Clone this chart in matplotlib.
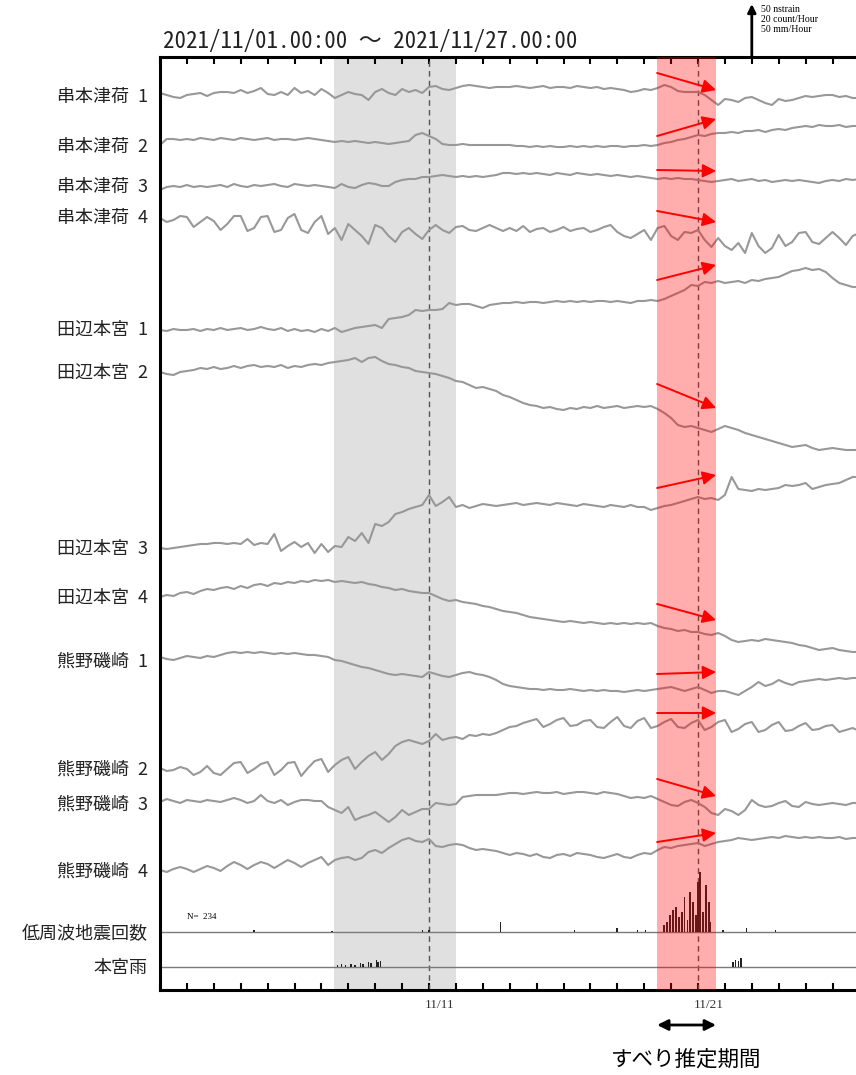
import matplotlib
matplotlib.use("Agg")
import matplotlib.pyplot as plt
import numpy as np

plt.rcParams['font.family'] = ['Noto Sans CJK JP', 'DejaVu Sans']

# 6-hourly samples, days since 2021/11/01 00:00
days = np.arange(0, 26.01, 0.25)

labels = ['串本津荷\u20021', '串本津荷\u20022', '串本津荷\u20023', '串本津荷\u20024',
          '田辺本宮\u20021', '田辺本宮\u20022', '田辺本宮\u20023', '田辺本宮\u20024',
          '熊野磯崎\u20021', '熊野磯崎\u20022', '熊野磯崎\u20023', '熊野磯崎\u20024']

# strain change (nstrain, extension up)
kushimoto1 = [4, 2, 0, -1, 2, 3, 4, 1, 4, 5, 5, 4, 7, 4, 6, 9, 3, 2, 5, 2, 9, 4, 6, 2,
              8, 4, -1, 2, 5, 3, 2, -3, 5, 8, 4, 2, 8, 5, 7, 4, 10, 11, 8, 7, 9, 11, 12, 11,
              10, 9, 10, 10, 10, 11, 10, 9, 10, 11, 9, 10, 10, 9, 11, 10, 9, 10, 8, 9,
              8, 7, 5, 6, 8, 7, 9, 12, 10, 6, 5, 5, 5, 2, -3, -8, -2, -3, -5, -1,
              0, -3, -6, -8, -2, -4, -3, -1, 1, 0, 1, 2, 2, 0, 1, -1, -1]
kushimoto2 = [2, 8, 8, 7, 8, 7, 9, 8, 7, 9, 8, 7, 9, 8, 7, 8, 9, 7, 8, 8, 7, 8, 9, 8,
              7, 6, 5, 6, 5, 6, 5, 4, 5, 4, 3, 4, 5, 6, 12, 14, 11, 8, 3, 2, 2, 3, 2, 2,
              2, 2, 2, 2, 2, 1, 1, 0, 1, 0, 1, 0, 0, 1, 0, 1, 0, 1, 0, 1,
              1, 0, 1, 1, 2, 1, 2, 4, 5, 7, 8, 10, 12, 11, 13, 14, 14, 15, 14, 16,
              16, 17, 15, 17, 18, 17, 19, 20, 21, 20, 22, 21, 21, 22, 20, 21, 21]
kushimoto3 = [-3, 0, 1, 0, 2, 0, 1, 0, 1, 2, 0, 3, 1, 0, 2, 1, 2, 3, 1, 0, 3, 2, 1, 2,
              1, 0, -1, 3, 0, -1, 2, 4, 3, 1, 1, 5, 7, 8, 8, 10, 10, 11, 12, 11, 10, 11, 10, 11,
              10, 11, 12, 14, 14, 13, 14, 13, 14, 13, 12, 14, 13, 12, 14, 13, 12, 13, 12, 11,
              12, 11, 10, 11, 10, 9, 8, 9, 8, 9, 8, 8, 7, 6, 5, 6, 7, 8, 6, 7,
              8, 6, 7, 5, 6, 7, 6, 7, 6, 5, 4, 6, 7, 6, 8, 7, 8]
kushimoto4 = [0, -4, -2, 2, 1, -9, -4, 1, -3, -12, -6, 2, 2, -13, -10, 1, 2, -14, -12, 0,
              4, -12, -15, -4, 2, -16, -10, -22, -6, -12, -18, -26, -7, -10, -18, -24,
              -14, -10, -16, -21, -12, -7, -12, -15, -9, -8, -12, -13, -10, -7, -10, -13,
              -10, -13, -8, -14, -11, -10, -14, -12, -9, -13, -11, -10, -14, -12, -9, -7,
              -14, -18, -20, -16, -12, -22, -10, -8, -18, -22, -14, -15, -12, -22, -29, -20,
              -28, -32, -25, -35, -15, -28, -35, -30, -17, -28, -24, -15, -14, -24, -26, -20,
              -14, -20, -27, -18, -15]
tanabe1 = [0, -1, 1, 0, 0, 1, -1, 1, 0, 2, 0, 1, 2, 0, 1, 3, 1, 0, 2, -1, 1, -1, 0, -2,
           1, -1, 2, -2, 0, 2, 3, 4, 5, 2, 11, 12, 13, 15, 20, 19, 20, 20, 21, 27, 25, 26, 26, 24,
           22, 25, 26, 27, 27, 28, 27, 28, 28, 27, 28, 29, 28, 29, 28, 29, 28, 29, 29, 28,
           29, 28, 27, 29, 29, 30, 29, 31, 34, 37, 40, 45, 44, 48, 47, 49, 47, 48, 49, 47,
           50, 49, 51, 52, 53, 56, 59, 60, 62, 60, 61, 58, 52, 47, 45, 43, 43]
tanabe2 = [1, -1, -2, 1, 2, 3, 5, 4, 6, 4, 5, 7, 5, 7, 8, 6, 7, 6, 8, 5, 7, 6, 8, 9,
           8, 10, 11, 12, 13, 15, 11, 15, 16, 12, 9, 8, 6, 5, 2, 1, 0, -1, -3, -5,
           -8, -9, -12, -15, -14, -16, -18, -22, -24, -27, -30, -32, -33, -35, -34, -36,
           -37, -35, -36, -34, -35, -33, -35, -34, -33, -35, -34, -33, -34, -33, -36, -40,
           -45, -52, -54, -53, -55, -57, -59, -56, -53, -55, -57, -60, -62, -64, -66, -68,
           -70, -72, -74, -73, -72, -75, -77, -76, -75, -76, -77, -77, -77]
tanabe3 = [1, 0, 1, 2, 3, 4, 5, 5, 6, 6, 5, 6, 5, 10, 4, 6, 5, 15, -2, 3, 7, 2, 6, -4,
           5, -3, 3, 2, 12, 8, 16, 6, 25, 23, 27, 35, 37, 40, 42, 44, 54, 43, 47, 52,
           42, 44, 41, 43, 45, 44, 43, 44, 45, 46, 44, 45, 46, 45, 44, 46, 45, 44, 43, 45,
           44, 43, 42, 44, 43, 42, 44, 42, 42, 39, 41, 43, 44, 46, 48, 50, 52, 50, 51, 49,
           54, 72, 60, 59, 58, 60, 59, 60, 61, 64, 63, 64, 66, 60, 62, 64, 65, 66, 69, 72, 72]
tanabe4 = [1, 3, 2, 5, 6, 4, 7, 9, 8, 10, 11, 9, 12, 10, 13, 14, 12, 15, 14, 16, 15, 17, 16, 18,
           17, 18, 16, 17, 16, 15, 16, 14, 13, 11, 10, 8, 9, 7, 6, 5, 5, 2, -1, -3,
           -2, -4, -5, -6, -8, -9, -11, -13, -14, -15, -17, -19, -20, -21, -22, -23,
           -24, -23, -24, -25, -24, -25, -26, -25, -26, -25, -26, -25, -26, -25, -28, -30,
           -31, -33, -32, -34, -34, -36, -37, -35, -38, -42, -44, -43, -42, -43, -41, -42,
           -43, -44, -45, -47, -48, -50, -52, -51, -50, -52, -53, -54, -54]
kumano1 = [5, 3, 2, 4, 6, 5, 4, 6, 5, 7, 9, 10, 9, 10, 9, 10, 9, 8, 9, 8, 9, 8, 7, 7,
           6, 5, 2, 1, -1, -3, -5, -6, -8, -10, -12, -13, -12, -13, -14, -15, -10, -12, -14, -15,
           -13, -11, -10, -12, -13, -15, -18, -22, -24, -25, -26, -27, -27, -28, -27, -28,
           -28, -27, -28, -29, -28, -29, -28, -29, -29, -30, -29, -28, -29, -28, -27, -26,
           -25, -27, -29, -27, -25, -28, -31, -29, -29, -31, -33, -29, -25, -20, -24, -22,
           -18, -21, -23, -20, -19, -18, -17, -18, -17, -16, -17, -16, -16]
kumano2 = [2, -1, 0, 3, 1, -5, -2, 4, -3, -5, 1, 7, 8, -3, 1, 6, 8, -5, 0, 7, 8, -6, 2, 9,
           11, -2, 5, 10, 13, 1, 8, 14, 18, 10, 16, 24, 28, 30, 28, 26, 29, 36, 30, 32,
           33, 31, 35, 34, 36, 35, 37, 40, 43, 44, 47, 49, 51, 43, 46, 50, 52, 44, 45, 49,
           50, 43, 42, 48, 53, 44, 42, 49, 52, 42, 44, 48, 51, 43, 42, 47, 50, 40, 43, 48,
           50, 38, 41, 46, 48, 38, 40, 45, 48, 39, 40, 44, 47, 40, 41, 44, 45, 38, 40, 42, 39]
kumano3 = [3, 6, 4, 2, 5, 4, 3, 5, 4, 3, 5, 7, 5, 2, 4, 10, 4, 2, 5, 0, 3, 5, 5, 4,
           4, -2, -5, -8, -2, -15, -12, -10, -7, -12, -17, -12, -5, -10, -7, -4, -4, 2, 1, 0,
           1, 8, 9, 10, 10, 10, 10, 11, 12, 12, 11, 12, 13, 12, 12, 13, 11, 12, 13, 13,
           12, 11, 13, 12, 11, 9, 7, 8, 7, 9, 6, 3, 0, -1, 3, 5, 2, -2, -8, -10,
           -4, -6, -10, -5, 5, 0, -2, -1, 2, 4, -1, -2, 3, 1, 0, 1, 2, 1, 0, 2, 2]
kumano4 = [2, 0, 3, 5, 3, 0, 3, 6, 4, 1, 6, 10, 7, 3, 7, 10, 8, 4, 8, 12, 9, 5, 9, 12,
           15, 7, 12, 14, 15, 12, 14, 20, 22, 19, 24, 28, 32, 34, 31, 30, 33, 26, 25, 27,
           28, 27, 24, 22, 23, 22, 21, 19, 17, 19, 18, 16, 18, 15, 14, 17, 18, 16, 19, 18,
           17, 15, 14, 16, 18, 15, 14, 17, 19, 18, 22, 25, 24, 26, 27, 28, 29, 26, 28, 30,
           31, 32, 34, 33, 32, 33, 34, 35, 34, 36, 35, 34, 35, 34, 35, 34, 34, 35, 33, 34, 34]

traces = [kushimoto1, kushimoto2, kushimoto3, kushimoto4, tanabe1, tanabe2,
          tanabe3, tanabe4, kumano1, kumano2, kumano3, kumano4]

# low-frequency tremor, hourly counts
lfe_day = [3.5, 6.4, 9.75, 10.0, 12.66, 15.42, 16.99, 17.76, 18.05,
           18.74, 18.85, 18.96, 19.07, 19.18, 19.29, 19.40, 19.51, 19.62, 19.70,
           19.81, 19.92, 20.00, 20.08, 20.19, 20.30, 20.41, 20.47,
           20.93, 21.81, 22.87]
lfe_count = [1, 0.5, 1, 1, 4, 1, 1.5, 1, 1,
             3, 4, 7, 9, 10, 6, 8, 14, 5, 16,
             12, 7, 20, 24, 8, 19, 12, 4,
             1, 1.5, 1]
# rain at Hongu (mm/hour)
rain_day = [6.6, 6.75, 6.9, 7.1, 7.25, 7.45, 7.55, 7.75, 7.85, 8.05, 8.1, 8.2,
            21.3, 21.4, 21.5, 21.6]
rain_mm = [2, 3, 2, 3, 2, 4, 3, 5, 4, 7, 5, 6, 5, 7, 6, 9]

# tilt-change direction arrows (start, end) in trace rows
arrow_rows = [(73, 90), (136, 119), (170, 171), (211, 222), (280, 265), (384, 408),
              (488, 475), (604, 620), (674, 672), (713, 713), (779, 796), (842, 833)]

# ---- layout (rows in pixels from top of figure) ----
W, H = 856, 1075
px_day = 26.9
base_rows = [97, 147, 187, 218, 330, 373, 549, 598, 662, 770, 805, 872]
lfe_row, rain_row = 932, 967
top_row, bot_row = 57, 990

fig = plt.figure(figsize=(W / 100, H / 100), dpi=100)
ax = fig.add_axes([160 / W, 1 - bot_row / H, 26 * px_day / W, (bot_row - top_row) / H])
ax.set_xlim(0, 26)
ax.set_ylim(bot_row, top_row)

ax.axvspan(6.45, 11.0, color='#e0e0e0', zorder=0, lw=0)
ax.axvspan(18.48, 20.67, color='red', alpha=0.32, zorder=3, lw=0)
for d in [10, 20]:
    ax.axvline(d, color='#555555', lw=1, ls=(0, (4, 3)), zorder=2)

for base, vals in zip(base_rows, traces):
    ax.plot(days, base - np.array(vals), color='#989898', lw=1.5, zorder=2,
            solid_joinstyle='round', solid_capstyle='round')

for r in [lfe_row, rain_row]:
    ax.axhline(r, color='#7a7a7a', lw=1, zorder=2)
ax.bar(lfe_day, -2.5 * np.array(lfe_count), bottom=lfe_row, width=1 / 20,
       color='#222222', zorder=2)
ax.bar(rain_day, -np.array(rain_mm), bottom=rain_row, width=1 / 20,
       color='#222222', zorder=2)

for r0, r1 in arrow_rows:
    ax.annotate('', xy=(20.67, r1), xytext=(18.48, r0),
                arrowprops=dict(arrowstyle='-|>', color='red', lw=1.4, mutation_scale=20,
                                shrinkA=0, shrinkB=0), zorder=5)

for lab, r in zip(labels + ['低周波地震回数', '本宮雨'], base_rows + [lfe_row + 2, rain_row + 1]):
    ax.text(-0.45, r, lab, ha='right', va='center', fontsize=13, color='#222222', clip_on=False)

ax.text(1.0, 917, 'N=  234', fontsize=6.5, family='Liberation Serif', va='center')

ax.text(0.1, 42, '2021/11/01.00:00 ～ 2021/11/27.00:00', fontsize=16.5, va='center',
        color='#222222', clip_on=False,
        family=['Noto Sans Mono CJK JP', 'DejaVu Sans Mono', 'Noto Sans CJK JP'])

# scale arrow
ax.annotate('', xy=(22.0, 4), xytext=(22.0, 56), annotation_clip=False,
            arrowprops=dict(arrowstyle='-|>', color='black', lw=2, mutation_scale=12,
                            shrinkA=0, shrinkB=0))
for i, s in enumerate(['50 nstrain', '20 count/Hour', '50 mm/Hour']):
    ax.text(22.35, 10 + 9.5 * i, s, fontsize=7, family='Liberation Serif', va='center',
            clip_on=False)

# slip period arrow
ax.annotate('', xy=(20.67, 1025), xytext=(18.48, 1025), annotation_clip=False,
            arrowprops=dict(arrowstyle='<|-|>', color='black', lw=2, mutation_scale=16,
                            shrinkA=0, shrinkB=0))
ax.text(19.55, 1060, 'すべり推定期間', ha='center', va='center', fontsize=15.5, clip_on=False)

ax.set_xticks(np.arange(0, 27, 1))
ax.set_xticklabels([])
ax.set_yticks([])
ax.tick_params(axis='x', direction='in', top=True, bottom=True, length=5, width=1.5)
for d, s in [(10, '11/11'), (20, '11/21')]:
    ax.text(d + 0.4, 1005, s, ha='center', va='center', fontsize=9.5,
            family='Liberation Serif', color='#333333', clip_on=False)

for side in ['left', 'top', 'bottom']:
    ax.spines[side].set_linewidth(2.2)
ax.spines['right'].set_visible(False)

fig.savefig('out.png', dpi=100)
